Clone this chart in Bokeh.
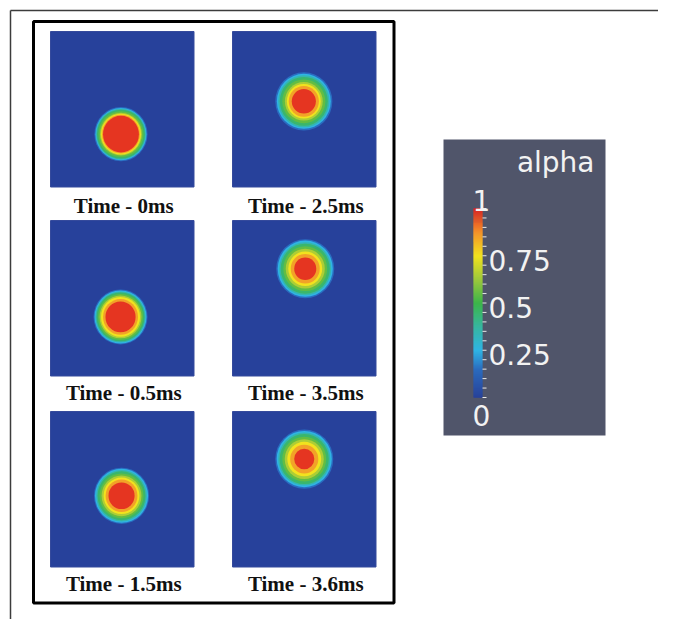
import numpy as np
from bokeh.plotting import figure
from bokeh.models import Range1d, ColumnDataSource
from bokeh.embed import file_html
from bokeh.resources import INLINE
from bokeh.core.properties import value

# ---------------- data ----------------
times = ["0ms", "0.5ms", "1.5ms", "2.5ms", "3.5ms", "3.6ms"]
# bubble centre (fraction of panel width from left, fraction of panel height from bottom)
bubble_cx = [0.491, 0.488, 0.495, 0.497, 0.507, 0.500]
bubble_cy = [0.340, 0.380, 0.458, 0.551, 0.690, 0.694]
# alpha contour levels and their radii (fraction of panel width) for each snapshot
levels = [0.1, 0.2, 0.3, 0.4, 0.5, 0.6, 0.7, 0.8, 0.9]
r_0ms   = [0.185, 0.178, 0.173, 0.167, 0.157, 0.146, 0.139, 0.132, 0.125]
r_05ms  = [0.188, 0.181, 0.174, 0.167, 0.157, 0.146, 0.136, 0.122, 0.105]
r_15ms  = [0.192, 0.185, 0.176, 0.167, 0.153, 0.139, 0.125, 0.111, 0.091]
r_25ms  = [0.199, 0.188, 0.178, 0.167, 0.150, 0.132, 0.118, 0.105, 0.084]
r_35ms  = [0.202, 0.192, 0.181, 0.171, 0.153, 0.136, 0.118, 0.101, 0.077]
r_36ms  = [0.202, 0.192, 0.181, 0.171, 0.153, 0.136, 0.118, 0.098, 0.070]
radii = [r_0ms, r_05ms, r_15ms, r_25ms, r_35ms, r_36ms]
# colour bar
cbar_ticks = [0.0, 0.25, 0.5, 0.75, 1.0]
cbar_labels = ["0", "0.25", "0.5", "0.75", "1"]
cbar_title = "alpha"

# colour map (blue -> cyan -> green -> yellow -> red)
cmap_stops = [0.0, 0.15, 0.25, 0.375, 0.5, 0.625, 0.75, 0.875, 1.0]
cmap_colors = ["#27419b", "#2a6cc0", "#2fb4e4", "#37b6a0", "#3cb64a",
               "#9cc83c", "#f2e21e", "#f2922a", "#e2231f"]


def hex2rgb(h):
    h = h.lstrip("#")
    return np.array([int(h[i:i + 2], 16) for i in (0, 2, 4)], dtype=float)


_rgb = np.array([hex2rgb(c) for c in cmap_colors])


def cmap(v):
    v = min(max(v, 0.0), 1.0)
    r = np.interp(v, cmap_stops, _rgb[:, 0])
    g = np.interp(v, cmap_stops, _rgb[:, 1])
    b = np.interp(v, cmap_stops, _rgb[:, 2])
    return "#%02x%02x%02x" % (int(round(r)), int(round(g)), int(round(b)))


# ---------------- layout ----------------
W, H = 658, 619
p = figure(width=W, height=H, x_range=Range1d(0, W), y_range=Range1d(H, 0),
           output_backend="svg", toolbar_location=None,
           x_axis_location=None, y_axis_location=None, min_border=0)
p.grid.visible = False
p.outline_line_color = None
p.background_fill_color = "white"
p.border_fill_color = "white"

# outer frame corner lines
p.segment(x0=[10, 10], y0=[10, 10], x1=[W, 10], y1=[10, H],
          line_color="#3c3c3c", line_width=1.5)

# black box around panels
p.quad(left=[33], right=[393.5], top=[21], bottom=[602.5],
       fill_color="white", line_color="black", line_width=3)

panel_w, panel_h = 143.5, 155.5
col_left = [50, 232]
row_top = [31, 220, 411]
label_base = [205, 392, 583]
pl, pt, pr, pb = [], [], [], []
for i in range(len(times)):
    c, r = i // 3, i % 3
    pl.append(col_left[c]); pt.append(row_top[r])
    pr.append(col_left[c] + panel_w); pb.append(row_top[r] + panel_h)

p.quad(left=pl, right=pr, top=pt, bottom=pb, fill_color=cmap(0.0),
       line_color="#354a9c", line_width=1)

# bubbles: filled alpha contours from outside in
ex, ey, ew, ec = [], [], [], []
for k, lev in enumerate(levels):
    for i in range(len(times)):
        cx = pl[i] + bubble_cx[i] * panel_w
        cy = pb[i] - bubble_cy[i] * panel_h
        ex.append(cx); ey.append(cy)
        ew.append(2 * radii[i][k] * panel_w)
        band = lev + 0.05 if k < len(levels) - 1 else 0.98
        ec.append(cmap(band))
src = ColumnDataSource(dict(x=ex, y=ey, w=ew, h=[v * 1.02 for v in ew], c=ec))
p.ellipse(x="x", y="y", width="w", height="h", fill_color="c", line_color=None, source=src)

# labels
lx, ly, lt = [], [], []
for i, t in enumerate(times):
    lx.append((pl[i] + pr[i]) / 2 + 1.5)
    ly.append(label_base[i % 3])
    lt.append("Time - " + t)
p.text(x=lx, y=ly, text=lt, text_font=value("Liberation Serif"), text_font_style="bold",
       text_font_size="21px", text_align="center", text_baseline="alphabetic",
       text_color="#111111")

# colour bar panel
p.quad(left=[443], right=[605], top=[139], bottom=[435], fill_color="#50556a",
       line_color=None)
bar_left, bar_right, bar_top, bar_bot = 473, 482, 208, 397
bar_h = bar_bot - bar_top
nseg = 190
vals = [(j + 0.5) / nseg for j in range(nseg)]
p.rect(x=[(bar_left + bar_right) / 2] * nseg,
       y=[bar_bot - v * bar_h for v in vals],
       width=bar_right - bar_left, height=bar_h / nseg + 0.6,
       fill_color=[cmap(v) for v in vals], line_color=None)
minor = [j * 0.05 for j in range(21)]
p.segment(x0=[bar_right] * len(minor), y0=[bar_bot - v * bar_h for v in minor],
          x1=[bar_right + 4] * len(minor), y1=[bar_bot - v * bar_h for v in minor],
          line_color="#e8e8e8", line_width=1)

tx, ty = [], []
for v in cbar_ticks:
    if v == 0.0:
        tx.append(472); ty.append(bar_bot + 18)
    elif v == 1.0:
        tx.append(472); ty.append(bar_top - 8)
    else:
        tx.append(488); ty.append(bar_bot - v * bar_h + 4.5)
p.text(x=tx, y=ty, text=cbar_labels, text_font=value("DejaVu Sans"),
       text_font_size="28px", text_align="left", text_baseline="middle",
       text_color="#f2f2f2")
p.text(x=[594], y=[162], text=[cbar_title], text_font=value("DejaVu Sans"),
       text_font_size="28px", text_align="right", text_baseline="middle",
       text_color="#f2f2f2")

open("out.html", "w").write(file_html(p, INLINE))
